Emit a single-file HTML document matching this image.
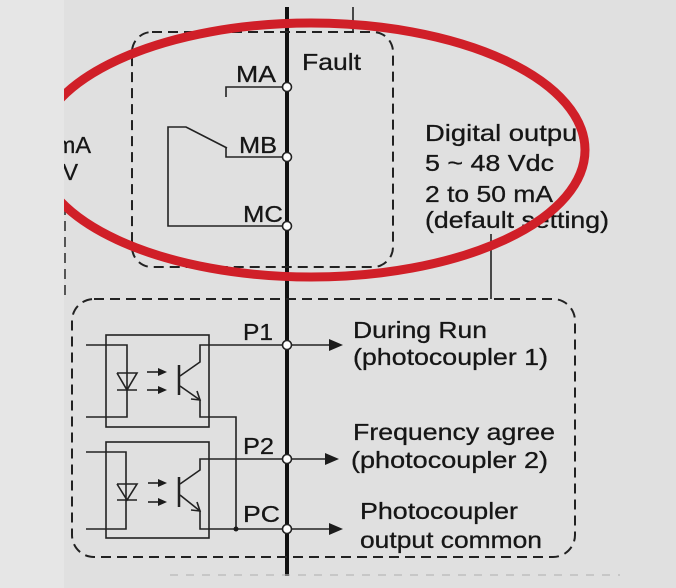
<!DOCTYPE html>
<html><head><meta charset="utf-8"><style>
html,body{margin:0;padding:0;background:#e5e5e5;}
svg{display:block;}
text{font-family:"Liberation Sans",Arial,sans-serif;font-size:23.5px;fill:#161616;stroke:#161616;stroke-width:0.3;}
</style></head><body>
<svg width="676" height="588" viewBox="0 0 676 588" xmlns="http://www.w3.org/2000/svg">
<defs><clipPath id="c"><rect x="64" y="0" width="612" height="588"/></clipPath></defs>
<rect x="0" y="0" width="676" height="588" fill="#e6e6e6"/>
<rect x="64" y="0" width="612" height="588" fill="#e0e0e0"/>
<g clip-path="url(#c)">
<!-- left cut text -->
<text x="91" y="153" text-anchor="end">4~20 mA</text>
<text x="78" y="180" text-anchor="end">0~10 V</text>
<line x1="65" y1="205" x2="65" y2="296" stroke="#333" stroke-width="1.6" stroke-dasharray="10,6"/>

<!-- bus -->
<line x1="287" y1="7" x2="287" y2="576" stroke="#111" stroke-width="4"/>
<line x1="353" y1="7" x2="353" y2="32" stroke="#222" stroke-width="1.6"/>
<line x1="491" y1="234" x2="491" y2="299" stroke="#222" stroke-width="1.6"/>

<!-- fault dashed box -->
<rect x="132" y="32" width="261" height="235" rx="20" ry="20" fill="none" stroke="#222" stroke-width="2" stroke-dasharray="10,6"/>
<!-- lower dashed box -->
<rect x="72" y="299" width="503" height="258" rx="22" ry="22" fill="none" stroke="#222" stroke-width="2" stroke-dasharray="10,6"/>
<line x1="170" y1="575" x2="620" y2="575" stroke="#b8b8b8" stroke-width="1.2" stroke-dasharray="8,8"/>

<!-- relay -->
<g fill="none" stroke="#222" stroke-width="1.6">
<polyline points="226,97 226,87 283,87"/>
<polyline points="226,148 226,157 283,157"/>
<polyline points="227,148 186,127 168,127 168,226 283,226"/>
</g>
<g fill="#fff" stroke="#222" stroke-width="1.6">
<circle cx="287" cy="87" r="4.5"/>
<circle cx="287" cy="157" r="4.5"/>
<circle cx="287" cy="226" r="4.5"/>
</g>
<text x="236" y="82" textLength="40" lengthAdjust="spacingAndGlyphs">MA</text>
<text x="302" y="70" textLength="59" lengthAdjust="spacingAndGlyphs">Fault</text>
<text x="239" y="153" textLength="38" lengthAdjust="spacingAndGlyphs">MB</text>
<text x="243" y="222" textLength="40" lengthAdjust="spacingAndGlyphs">MC</text>

<text x="425" y="141" textLength="160" lengthAdjust="spacingAndGlyphs">Digital output</text>
<text x="425" y="171" textLength="129" lengthAdjust="spacingAndGlyphs">5 ~ 48 Vdc</text>
<text x="425" y="202" textLength="128" lengthAdjust="spacingAndGlyphs">2 to 50 mA</text>
<text x="425" y="228" textLength="184" lengthAdjust="spacingAndGlyphs">(default setting)</text>

<!-- photocouplers -->
<g fill="none" stroke="#222" stroke-width="1.6">
<rect x="106" y="335" width="103" height="92"/>
<rect x="106" y="442" width="103" height="96"/>
<polyline points="86,345 127,345 127,417 86,417"/>
<polyline points="86,452 126,452 126,529 86,529"/>
<polyline points="117,373 137,373 127,390 117,373"/>
<line x1="117" y1="390" x2="137" y2="390"/>
<polyline points="117,484 137,484 127,500 117,484"/>
<line x1="117" y1="500" x2="137" y2="500"/>
<line x1="147" y1="372" x2="160" y2="372"/>
<line x1="147" y1="390" x2="160" y2="390"/>
<line x1="148" y1="483" x2="160" y2="483"/>
<line x1="148" y1="502" x2="160" y2="502"/>
<line x1="179" y1="365" x2="179" y2="395" stroke-width="2.5"/>
<line x1="179" y1="477" x2="179" y2="507" stroke-width="2.5"/>
<polyline points="283,345 200,345 200,362 180,376"/>
<polyline points="180,386 200,400 200,417 236,417 236,530"/>
<polyline points="283,459 200,459 200,470 180,484"/>
<polyline points="180,495 200,511 200,529 283,529"/>
<polyline points="191,399 200,400 197,391"/>
<polyline points="191,510 200,511 197,502"/>
<line x1="291" y1="345" x2="331" y2="345"/>
<line x1="291" y1="459" x2="328" y2="459"/>
<line x1="291" y1="529" x2="331" y2="529"/>
</g>
<g fill="#1c1c1c">
<polygon points="158,368 167,372 158,376"/>
<polygon points="158,386 167,390 158,394"/>
<polygon points="158,479 167,483 158,487"/>
<polygon points="158,498 167,502 158,506"/>
<polygon points="329,339 343,345 329,351"/>
<polygon points="325,453 339,459 325,465"/>
<polygon points="329,523 343,529 329,535"/>
<circle cx="236" cy="529" r="2.5"/>
</g>
<g fill="#fff" stroke="#222" stroke-width="1.6">
<circle cx="287" cy="345" r="4.5"/>
<circle cx="287" cy="459" r="4.5"/>
<circle cx="287" cy="529" r="4.5"/>
</g>
<text x="243" y="340" textLength="30" lengthAdjust="spacingAndGlyphs">P1</text>
<text x="243" y="454" textLength="31" lengthAdjust="spacingAndGlyphs">P2</text>
<text x="243" y="522" textLength="37" lengthAdjust="spacingAndGlyphs">PC</text>

<text x="353" y="338" textLength="134" lengthAdjust="spacingAndGlyphs">During Run</text>
<text x="353" y="365" textLength="195" lengthAdjust="spacingAndGlyphs">(photocoupler 1)</text>
<text x="353" y="440" textLength="202" lengthAdjust="spacingAndGlyphs">Frequency agree</text>
<text x="351" y="468" textLength="197" lengthAdjust="spacingAndGlyphs">(photocoupler 2)</text>
<text x="360" y="519" textLength="158" lengthAdjust="spacingAndGlyphs">Photocoupler</text>
<text x="360" y="548" textLength="182" lengthAdjust="spacingAndGlyphs">output common</text>

<!-- red ellipse -->
<ellipse cx="311" cy="150" rx="274" ry="127" fill="none" stroke="#d01f28" stroke-width="9"/>
</g>
</svg>
</body></html>
